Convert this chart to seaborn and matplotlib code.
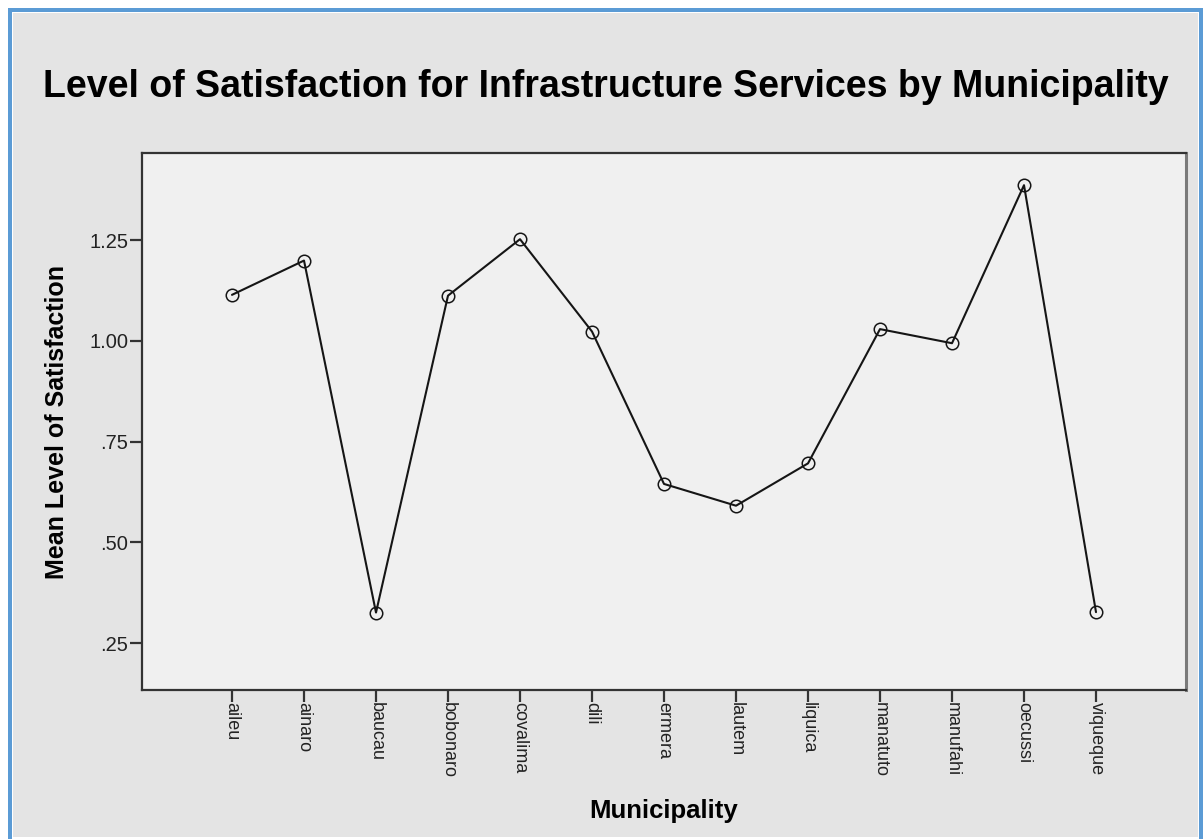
import matplotlib
matplotlib.use("Agg")
import matplotlib.pyplot as plt
from matplotlib.patches import Rectangle
import seaborn as sns
import pandas as pd

municipalities = ["aileu", "ainaro", "baucau", "bobonaro", "covalima", "dili",
                  "ermera", "lautem", "liquica", "manatuto", "manufahi",
                  "oecussi", "viqueque"]
mean_satisfaction = [1.114, 1.199, 0.326, 1.112, 1.252, 1.023,
                     0.645, 0.591, 0.696, 1.029, 0.994, 1.386, 0.327]
y_ticks = [0.25, 0.50, 0.75, 1.00, 1.25]
y_tick_labels = [".25", ".50", ".75", "1.00", "1.25"]

df = pd.DataFrame({"Municipality": municipalities,
                   "Mean Level of Satisfaction": mean_satisfaction})

sns.set_theme(style="white")
plt.rcParams["font.family"] = ["Liberation Sans", "DejaVu Sans"]

W, H = 1203, 839
fig = plt.figure(figsize=(W / 100, H / 100), dpi=100)
fig.patch.set_facecolor("white")


def px_rect(x0, y0, x1, y1, color):
    # rectangle given in pixel coordinates measured from the top-left corner
    return Rectangle((x0 / W, 1 - y1 / H), (x1 - x0) / W, (y1 - y0) / H,
                     transform=fig.transFigure, facecolor=color,
                     edgecolor="none", zorder=-10)


# framed panel behind the chart
fig.add_artist(px_rect(8, 8, W + 20, H + 20, "#5b9bd5"))
fig.add_artist(px_rect(12, 12, 1199, 839, "white"))
fig.add_artist(px_rect(13, 13, 1198, 837, "#e4e4e4"))

ax = fig.add_axes([142 / W, 1 - 690 / H, (1186 - 142) / W, (690 - 153) / H])
ax.set_facecolor("#f0f0f0")

sns.lineplot(data=df, x="Municipality", y="Mean Level of Satisfaction",
             sort=False, ax=ax, color="#151515", linewidth=1.5,
             marker="o", markersize=9, markerfacecolor="none",
             markeredgecolor="#151515", markeredgewidth=1.1)

ax.set_xlim(-1.25, 13.25)
ax.set_ylim(0.1339, 1.4658)
ax.set_yticks(y_ticks)
ax.set_yticklabels(y_tick_labels)
ax.set_xticks(range(len(municipalities)))
ax.set_xticklabels(municipalities, rotation=270)

ax.tick_params(axis="both", which="major", direction="out", length=8.5,
               width=1.6, color="#333333", labelcolor="#222222",
               left=True, bottom=True)
ax.tick_params(axis="y", pad=1.5, labelsize=14.5)
ax.tick_params(axis="x", pad=0.5, labelsize=13)

for side in ["left", "bottom", "top"]:
    ax.spines[side].set_color("#333333")
    ax.spines[side].set_linewidth(1.6)
ax.spines["right"].set_color("#7a7a7a")
ax.spines["right"].set_linewidth(2.2)

ax.set_xlabel("Municipality", fontsize=18.5, fontweight="bold", color="black")
ax.set_ylabel("Mean Level of Satisfaction", fontsize=18, fontweight="bold",
              color="black")
ax.xaxis.set_label_coords(0.5, -(799 - 690) / (690 - 153))
ax.yaxis.set_label_coords(-(142 - 69) / (1186 - 142), 0.5)

fig.text(606 / W, 1 - 87 / H,
         "Level of Satisfaction for Infrastructure Services by Municipality",
         ha="center", va="center", fontsize=27, fontweight="bold",
         color="black")

fig.savefig("out.png", dpi=100)
